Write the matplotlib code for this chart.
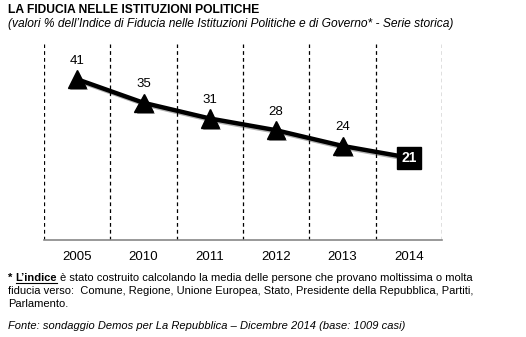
import matplotlib
matplotlib.use("Agg")
import matplotlib.pyplot as plt
import matplotlib.patheffects as pe

years = ["2005", "2010", "2011", "2012", "2013", "2014"]
values = [41, 35, 31, 28, 24, 21]

plt.rcParams['font.family'] = ['Liberation Sans', 'DejaVu Sans']

W, H = 526, 337
fig = plt.figure(figsize=(W/100, H/100), dpi=100)
ax = fig.add_axes([44/W, 1-240/H, (442-44)/W, (240-44)/H])
n = len(years)
xs = list(range(n))
ax.set_xlim(-0.5, n-0.5)
ax.set_ylim(0, 50)

for b in range(n+1):
    ax.axvline(b-0.5, color='black', lw=0.9, ls=(0, (3, 2.5)), zorder=1)

shadow = [pe.SimpleLineShadow(offset=(1.2, -1.2), alpha=0.3), pe.Normal()]
ax.plot(xs, values, color='black', lw=3.2, solid_capstyle='round', zorder=3,
        path_effects=shadow)
ax.plot(xs[:-1], values[:-1], ls='none', marker='^', ms=13, color='black', zorder=4,
        path_effects=[pe.SimplePatchShadow(offset=(1.5, -1.5), alpha=0.4), pe.Normal()])

for x, v in zip(xs[:-1], values[:-1]):
    ax.annotate(str(v), (x, v), xytext=(0, 9), textcoords='offset points',
                ha='center', va='bottom', fontsize=9.5, color='black')
ax.text(xs[-1], values[-1], str(values[-1]), ha='center', va='center', fontsize=10,
        fontweight='bold', color='white', zorder=5,
        bbox=dict(boxstyle='square,pad=0.3', fc='black', ec='black'))

ax.set_xticks(xs)
ax.set_xticklabels(years, fontsize=9.5)
ax.tick_params(axis='x', length=0, pad=8)
ax.set_yticks([])
for s in ['top', 'left', 'right']:
    ax.spines[s].set_visible(False)
ax.spines['bottom'].set_color('#888888')
ax.spines['bottom'].set_linewidth(1.2)

fig.text(8/W, 1-10/H, "LA FIDUCIA NELLE ISTITUZIONI POLITICHE", fontsize=8.7,
         fontweight='bold', va='center', ha='left')
fig.text(8/W, 1-24/H,
         "(valori % dell\u2019Indice di Fiducia nelle Istituzioni Politiche e di Governo* - Serie storica)",
         fontsize=8.65, style='italic', va='center', ha='left')

fs = 8.0
renderer = fig.canvas.get_renderer()
y1 = 1-278/H
t_star = fig.text(8/W, y1, "* ", fontsize=fs, fontweight='bold', va='center', ha='left')
bb = t_star.get_window_extent(renderer)
x_ind = bb.x1 / (W)
t_ind = fig.text(x_ind, y1, "L\u2019indice", fontsize=fs, fontweight='bold',
                 va='center', ha='left')
bb2 = t_ind.get_window_extent(renderer)
fig.add_artist(plt.Line2D([bb2.x0/W, bb2.x1/W], [1-282.5/H, 1-282.5/H],
                          color='black', lw=0.8, transform=fig.transFigure))
fig.text(bb2.x1/W + 3/W, y1,
         "\u00e8 stato costruito calcolando la media delle persone che provano moltissima o molta",
         fontsize=fs, va='center', ha='left')
fig.text(8/W, 1-291/H,
         "fiducia verso:  Comune, Regione, Unione Europea, Stato, Presidente della Repubblica, Partiti,",
         fontsize=fs, va='center', ha='left')
fig.text(8/W, 1-304/H, "Parlamento.", fontsize=fs, va='center', ha='left')
fig.text(8/W, 1-326/H,
         "Fonte: sondaggio Demos per La Repubblica \u2013 Dicembre 2014 (base: 1009 casi)",
         fontsize=fs, style='italic', va='center', ha='left')

fig.savefig("out.png", dpi=100)
